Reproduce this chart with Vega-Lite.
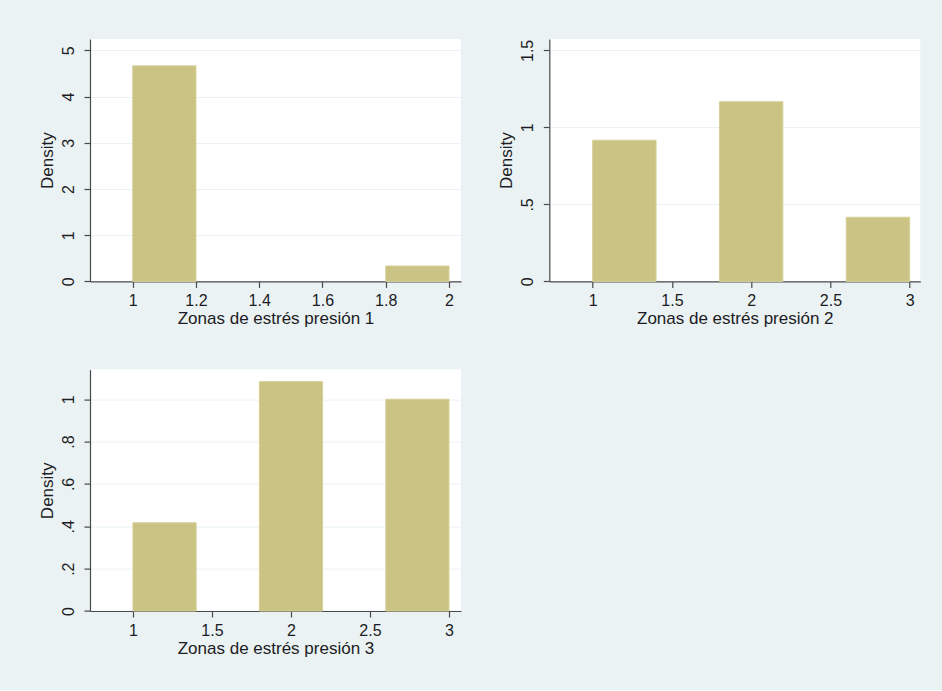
{
  "$schema": "https://vega.github.io/schema/vega-lite/v6.json",
  "background": "#eaf2f3",
  "padding": {"left": 38, "top": 39, "right": 24, "bottom": 34},
  "datasets": {
    "presion1": [
      {"bin_start": 1.0, "bin_end": 1.2, "density": 4.6667},
      {"bin_start": 1.8, "bin_end": 2.0, "density": 0.3333}
    ],
    "presion2": [
      {"bin_start": 1.0, "bin_end": 1.4, "density": 0.9167},
      {"bin_start": 1.8, "bin_end": 2.2, "density": 1.1667},
      {"bin_start": 2.6, "bin_end": 3.0, "density": 0.4167}
    ],
    "presion3": [
      {"bin_start": 1.0, "bin_end": 1.4, "density": 0.4167},
      {"bin_start": 1.8, "bin_end": 2.2, "density": 1.0833},
      {"bin_start": 2.6, "bin_end": 3.0, "density": 1.0}
    ]
  },
  "columns": 2,
  "spacing": {"row": 87.6, "column": 88.3},
  "bounds": "flush",
  "concat": [
    {
      "width": 371,
      "height": 242.4,
      "data": {"name": "presion1"},
      "mark": {"type": "bar", "fill": "#cbc384", "stroke": "#d6d09a", "strokeWidth": 1},
      "encoding": {
        "x": {
          "field": "bin_start", "type": "quantitative",
          "scale": {"domain": [0.865, 2.038], "nice": false, "zero": false},
          "axis": {"values": [1, 1.2, 1.4, 1.6, 1.8, 2], "title": "Zonas de estrés presión 1"}
        },
        "x2": {"field": "bin_end"},
        "y": {
          "field": "density", "type": "quantitative",
          "scale": {"domain": [0, 5.247], "nice": false},
          "axis": {"values": [0, 1, 2, 3, 4, 5], "title": "Density", "grid": true}
        },
        "y2": {"datum": 0}
      }
    },
    {
      "width": 371,
      "height": 242.4,
      "data": {"name": "presion2"},
      "mark": {"type": "bar", "fill": "#cbc384", "stroke": "#d6d09a", "strokeWidth": 1},
      "encoding": {
        "x": {
          "field": "bin_start", "type": "quantitative",
          "scale": {"domain": [0.7265, 3.067], "nice": false, "zero": false},
          "axis": {"values": [1, 1.5, 2, 2.5, 3], "title": "Zonas de estrés presión 2"}
        },
        "x2": {"field": "bin_end"},
        "y": {
          "field": "density", "type": "quantitative",
          "scale": {"domain": [0, 1.574], "nice": false},
          "axis": {"values": [0, 0.5, 1, 1.5], "title": "Density", "grid": true}
        },
        "y2": {"datum": 0}
      }
    },
    {
      "width": 371,
      "height": 241.4,
      "data": {"name": "presion3"},
      "mark": {"type": "bar", "fill": "#cbc384", "stroke": "#d6d09a", "strokeWidth": 1},
      "encoding": {
        "x": {
          "field": "bin_start", "type": "quantitative",
          "scale": {"domain": [0.728, 3.076], "nice": false, "zero": false},
          "axis": {"values": [1, 1.5, 2, 2.5, 3], "title": "Zonas de estrés presión 3"}
        },
        "x2": {"field": "bin_end"},
        "y": {
          "field": "density", "type": "quantitative",
          "scale": {"domain": [0, 1.14], "nice": false},
          "axis": {"values": [0, 0.2, 0.4, 0.6, 0.8, 1], "title": "Density", "grid": true}
        },
        "y2": {"datum": 0}
      }
    }
  ],
  "config": {
    "view": {"fill": "white", "stroke": null},
    "font": "Liberation Sans",
    "axis": {
      "domainColor": "#4a4a4a",
      "domainWidth": 1.2,
      "tickColor": "#4a4a4a",
      "tickSize": 6,
      "tickWidth": 1.2,
      "labelFont": "Liberation Sans",
      "labelFontSize": 16,
      "labelColor": "#1c1c24",
      "titleFont": "Liberation Sans",
      "titleFontSize": 17,
      "titleFontWeight": "normal",
      "titleColor": "#1c1c24",
      "gridColor": "#eaf2f3",
      "gridWidth": 1,
      "format": "~g"
    },
    "axisX": {"grid": false, "labelPadding": 5, "titlePadding": 2, "labelFlush": false},
    "axisY": {
      "labelAngle": -90,
      "labelPadding": 8,
      "titlePadding": 4,
      "labelFlush": false,
      "labelExpr": "datum.value > 0 && datum.value < 1 ? substring(datum.label, 1) : datum.label"
    }
  }
}
